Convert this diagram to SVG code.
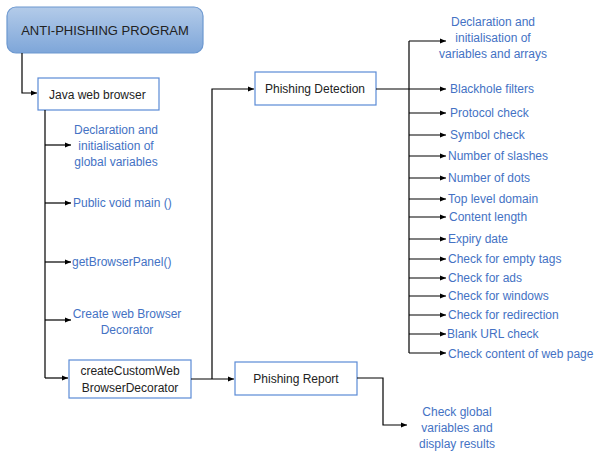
<svg xmlns="http://www.w3.org/2000/svg" width="598" height="451" viewBox="0 0 598 451">
<defs>
<linearGradient id="g" x1="0" y1="0" x2="0" y2="1">
<stop offset="0" stop-color="#b3cbe9"/>
<stop offset="1" stop-color="#7ea6d9"/>
</linearGradient>
<marker id="a" viewBox="0 0 6 6" refX="6" refY="3" markerWidth="6" markerHeight="6" markerUnits="userSpaceOnUse" orient="auto">
<path d="M0,0.5 L6,3 L0,5.5 Z" fill="#000"/>
</marker>
<style>
.box{fill:#fff;stroke:#5b8bd6;stroke-width:1.2}
.t{font-family:"Liberation Sans",Arial,sans-serif;font-size:12px;fill:#222}
.b{font-family:"Liberation Sans",Arial,sans-serif;font-size:12px;fill:#4472c4}
.c{text-anchor:middle}
.ln{fill:none;stroke:#000;stroke-width:1.2}
.ar{fill:none;stroke:#000;stroke-width:1.2;marker-end:url(#a)}
</style>
</defs>
<rect width="598" height="451" fill="#fff"/>

<g id="root">
<rect x="7" y="7" width="196" height="46" rx="9" fill="url(#g)" stroke="#6c98d0" stroke-width="1.2"/>
<text class="t c" x="105" y="35" style="font-size:13px">ANTI-PHISHING PROGRAM</text>
</g>

<g id="java">
<rect class="box" x="38" y="78" width="121" height="32"/>
<text class="t" x="49" y="99">Java web browser</text>
</g>

<g id="custom">
<rect class="box" x="69" y="360" width="122" height="38"/>
<text class="t c" x="130" y="375">createCustomWeb</text>
<text class="t c" x="130" y="392">BrowserDecorator</text>
</g>

<g id="detect">
<rect class="box" x="255" y="72" width="121" height="33"/>
<text class="t c" x="315" y="93">Phishing Detection</text>
</g>

<g id="report">
<rect class="box" x="235" y="362" width="122" height="33"/>
<text class="t c" x="296" y="383">Phishing Report</text>
</g>

<g id="java-items">
<text class="b c" x="116" y="134">Declaration and</text>
<text class="b c" x="116" y="150">initialisation of</text>
<text class="b c" x="116" y="166">global variables</text>
<text class="b" x="73" y="207">Public void main ()</text>
<text class="b" x="72" y="266">getBrowserPanel()</text>
<text class="b c" x="127" y="318">Create web Browser</text>
<text class="b c" x="127" y="334">Decorator</text>
</g>

<g id="detect-items">
<text class="b c" x="493" y="26">Declaration and</text>
<text class="b c" x="493" y="42">initialisation of</text>
<text class="b c" x="493" y="58">variables and arrays</text>
<text class="b" x="450" y="93">Blackhole filters</text>
<text class="b" x="450" y="117">Protocol check</text>
<text class="b" x="450" y="139">Symbol check</text>
<text class="b" x="448" y="160">Number of slashes</text>
<text class="b" x="448" y="182">Number of dots</text>
<text class="b" x="448" y="203">Top level domain</text>
<text class="b" x="449" y="221">Content length</text>
<text class="b" x="448" y="243">Expiry date</text>
<text class="b" x="448" y="263">Check for empty tags</text>
<text class="b" x="448" y="282">Check for ads</text>
<text class="b" x="448" y="300">Check for windows</text>
<text class="b" x="448" y="319">Check for redirection</text>
<text class="b" x="447" y="338">Blank URL check</text>
<text class="b" x="448" y="358">Check content of web page</text>
</g>

<g id="report-items">
<text class="b c" x="457" y="416">Check global</text>
<text class="b c" x="457" y="432">variables and</text>
<text class="b c" x="457" y="448">display results</text>
</g>

<g id="connectors">
<path class="ar" d="M22,53 V93 H37"/>
<path class="ln" d="M45,110 V378"/>
<path class="ar" d="M45,145 H71"/>
<path class="ar" d="M45,203 H71"/>
<path class="ar" d="M45,262 H71"/>
<path class="ar" d="M45,320 H71"/>
<path class="ar" d="M45,378 H68"/>
<path class="ar" d="M191,379 H234"/>
<path class="ar" d="M212,379 V89 H254"/>
<path class="ar" d="M376,89 H446"/>
<path class="ln" d="M409,41 V353"/>
<path class="ar" d="M409,41 H446"/>
<path class="ar" d="M409,113 H446"/>
<path class="ar" d="M409,135 H446"/>
<path class="ar" d="M409,156 H446"/>
<path class="ar" d="M409,178 H446"/>
<path class="ar" d="M409,199 H446"/>
<path class="ar" d="M409,217 H446"/>
<path class="ar" d="M409,239 H446"/>
<path class="ar" d="M409,259 H446"/>
<path class="ar" d="M409,278 H446"/>
<path class="ar" d="M409,296 H446"/>
<path class="ar" d="M409,315 H446"/>
<path class="ar" d="M409,334 H446"/>
<path class="ar" d="M409,353 H446"/>
<path class="ar" d="M357,378 H383 V425 H407"/>
</g>
</svg>
